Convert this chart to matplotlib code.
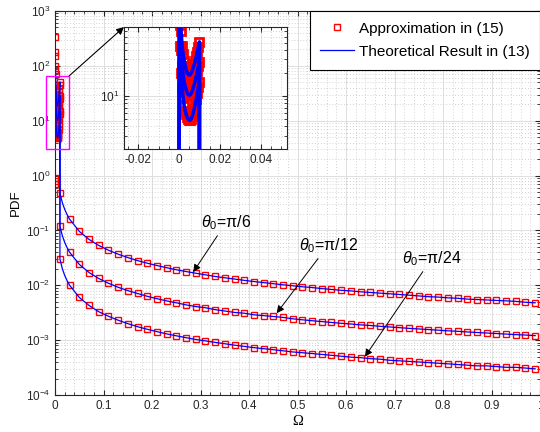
import numpy as np
import matplotlib
matplotlib.use('Agg')
import matplotlib.pyplot as plt
from matplotlib.ticker import AutoMinorLocator, LogLocator, NullFormatter, FuncFormatter
from matplotlib.patches import Rectangle

plt.rcParams['font.family'] = ['Liberation Sans', 'DejaVu Sans']
plt.rcParams['mathtext.fontset'] = 'custom'
plt.rcParams['mathtext.rm'] = 'Liberation Sans'
plt.rcParams['mathtext.it'] = 'Liberation Sans:italic'

# ---- data ----
labels = ['Approximation in (15)', 'Theoretical Result in (13)']
curve_names = [r'$\theta_0$=π/6', r'$\theta_0$=π/12', r'$\theta_0$=π/24']

# value at Omega = 0
pdf_zero = [0.91, 0.78, 0.70]

# U-shaped part on [0, 0.01]
omega_u = [0.00025, 0.0005, 0.001, 0.0015, 0.002, 0.0025, 0.003, 0.0035, 0.004, 0.0045,
           0.005, 0.0055, 0.006, 0.0065, 0.007, 0.0075, 0.008, 0.0085, 0.009, 0.0095, 0.01]
pdf_u_6 = [340, 150, 70, 45, 35, 29, 25, 22, 20, 19, 18.7, 19, 20, 21.5, 23.5, 26, 29, 33, 38, 44, 51]
pdf_u_12 = [180, 85, 40, 25, 19, 15.5, 13.3, 12, 11, 10.4, 10.2, 10.3, 10.8, 11.6, 12.7, 14.2,
            16, 18.3, 21, 24.5, 28]
pdf_u_24 = [100, 45, 20, 12.5, 9.3, 7.5, 6.4, 5.7, 5.2, 4.95, 4.8, 4.8, 5.0, 5.4, 6.0, 6.8,
            7.9, 9.2, 10.9, 13, 15.3]

# tail, sampled every 0.02 from 0.01 to 0.99
omega_tail = np.round(np.arange(0.01, 1.0, 0.02), 2)
pdf_t_6 = [0.48, 0.16, 0.096, 0.0686, 0.0533, 0.0436, 0.0369, 0.032, 0.0282, 0.0253,
           0.0229, 0.0209, 0.0192, 0.0178, 0.0166, 0.0155, 0.0145, 0.0137, 0.0130, 0.0123,
           0.0117, 0.0112, 0.0107, 0.0102, 0.0098, 0.0094, 0.0091, 0.0087, 0.0084, 0.0081,
           0.0079, 0.0076, 0.0074, 0.0072, 0.0070, 0.0068, 0.0066, 0.0064, 0.0062, 0.0061,
           0.0059, 0.0058, 0.0056, 0.0055, 0.0054, 0.0053, 0.0052, 0.0051, 0.0049, 0.0048]
pdf_t_12 = [0.12, 0.04, 0.024, 0.0171, 0.0133, 0.0109, 0.0092, 0.008, 0.0071, 0.0063,
            0.0057, 0.0052, 0.0048, 0.0044, 0.0041, 0.0039, 0.0036, 0.0034, 0.0032, 0.0031,
            0.0029, 0.0028, 0.0027, 0.0026, 0.00245, 0.00235, 0.00226, 0.00218, 0.0021, 0.00203,
            0.00197, 0.0019, 0.00185, 0.00179, 0.00174, 0.00169, 0.00164, 0.0016, 0.00156, 0.00152,
            0.00148, 0.00145, 0.00141, 0.00138, 0.00135, 0.00132, 0.00129, 0.00126, 0.00124, 0.00121]
pdf_t_24 = [0.03, 0.01, 0.006, 0.0043, 0.0033, 0.00273, 0.00231, 0.002, 0.00176, 0.00158,
            0.00143, 0.0013, 0.0012, 0.00111, 0.00103, 0.00097, 0.00091, 0.00086, 0.00081, 0.00077,
            0.00073, 0.0007, 0.00067, 0.00064, 0.00061, 0.00059, 0.00057, 0.00055, 0.00053, 0.00051,
            0.00049, 0.00048, 0.00046, 0.00045, 0.00043, 0.00042, 0.00041, 0.0004, 0.00039, 0.00038,
            0.00037, 0.00036, 0.00035, 0.00034, 0.00034, 0.00033, 0.00032, 0.00032, 0.00031, 0.0003]

# extra points of the theoretical curve where the tail bends
omega_bend = [0.015, 0.02, 0.025]
pdf_b_6 = [0.32, 0.24, 0.192]
pdf_b_12 = [0.08, 0.06, 0.048]
pdf_b_24 = [0.02, 0.015, 0.012]

curves = [(pdf_zero[0], pdf_u_6, pdf_t_6, pdf_b_6),
          (pdf_zero[1], pdf_u_12, pdf_t_12, pdf_b_12),
          (pdf_zero[2], pdf_u_24, pdf_t_24, pdf_b_24)]

# annotation positions: (text xy, arrow tip)
notes = [((0.353, 0.140), (0.285, 0.0175)),
         ((0.563, 0.0535), (0.457, 0.0031)),
         ((0.777, 0.031), (0.639, 0.0005))]


def draw(ax, lw, ms, mew):
    for k, (z, u, t, b) in enumerate(curves):
        xm = np.concatenate([[0.0], omega_u, omega_tail])
        ym = np.concatenate([[z], u, t])
        ax.plot(xm, ym, 's', color='r', mfc='none', ms=ms, mew=mew,
                label=labels[0] if k == 0 else None)
    for k, (z, u, t, b) in enumerate(curves):
        xl = np.concatenate([[0.0], omega_u, [omega_tail[0]], omega_bend, omega_tail[1:]])
        yl = np.concatenate([[z], u, [t[0]], b, t[1:]])
        ax.plot(xl, yl, '-', color='b', lw=lw,
                label=labels[1] if k == 0 else None)


def style(ax):
    ax.set_yscale('log')
    ax.yaxis.set_major_locator(LogLocator(base=10, numticks=15))
    ax.yaxis.set_minor_locator(LogLocator(base=10, subs=np.arange(2, 10), numticks=15))
    ax.yaxis.set_minor_formatter(NullFormatter())
    ax.xaxis.set_major_formatter(FuncFormatter(lambda v, p: f'{v:g}'))
    ax.grid(which='major', color='#dedede', lw=0.7, ls='-')
    ax.grid(which='minor', color='#c4c4c4', lw=0.6, ls=(0, (1, 2.5)))
    ax.set_axisbelow(True)
    ax.tick_params(which='both', direction='in', top=True, right=True,
                   colors='#262626', labelcolor='#262626')
    ax.tick_params(which='major', length=3.5)
    ax.tick_params(which='minor', length=2)
    for s in ax.spines.values():
        s.set_color('#262626')
        s.set_linewidth(0.8)


fig = plt.figure(figsize=(5.4, 4.32), dpi=100)
ax = fig.add_axes([0.102, 0.0856, 0.898, 0.889])
draw(ax, lw=0.9, ms=4.5, mew=1.0)
style(ax)
ax.set_xlim(0, 1)
ax.set_ylim(1e-4, 1e3)
ax.set_xticks(np.arange(0, 1.01, 0.1))
ax.xaxis.set_minor_locator(AutoMinorLocator(5))
ax.tick_params(labelsize=8.5)
ax.set_xlabel('Ω', family='Liberation Serif', fontsize=10.5, labelpad=2)
ax.set_ylabel('PDF', fontsize=9.5, labelpad=3)

leg = ax.legend(loc='upper right', bbox_to_anchor=(1, 1), borderaxespad=0, fancybox=False,
                edgecolor='k', framealpha=1, fontsize=11, handlelength=2.2,
                handletextpad=0.3, borderpad=0.7, labelspacing=0.6)
leg.get_frame().set_linewidth(0.8)

for name, (txt, tip) in zip(curve_names, notes):
    ax.annotate(name, xy=tip, xytext=txt, ha='center', va='center', fontsize=11.5,
                arrowprops=dict(arrowstyle='-|>', color='k', lw=0.7, mutation_scale=11,
                                shrinkA=1, shrinkB=0))

# zoom box around the small-Omega region
rect = Rectangle((-0.0186, 3.06), 0.0475, 62.4, fill=False, edgecolor='#ff00ff',
                 lw=1.0, clip_on=False, zorder=5)
ax.add_patch(rect)

ax_in = fig.add_axes([0.2296, 0.655, 0.302, 0.2824])
draw(ax_in, lw=2.6, ms=6, mew=2.0)
style(ax_in)
ax_in.set_xlim(-0.027, 0.053)
ax_in.set_ylim(2, 80)
ax_in.set_xticks([-0.02, 0, 0.02, 0.04])
ax_in.xaxis.set_minor_locator(AutoMinorLocator(4))
ax_in.tick_params(labelsize=8.5)
ax_in.set_facecolor('white')

ax.annotate('', xy=(0, 1), xycoords=ax_in.transAxes, xytext=(0.0289, 65.5), textcoords='data',
            arrowprops=dict(arrowstyle='-|>', color='k', lw=0.8, mutation_scale=11,
                            shrinkA=0, shrinkB=0))

fig.savefig('out.png', dpi=100)
